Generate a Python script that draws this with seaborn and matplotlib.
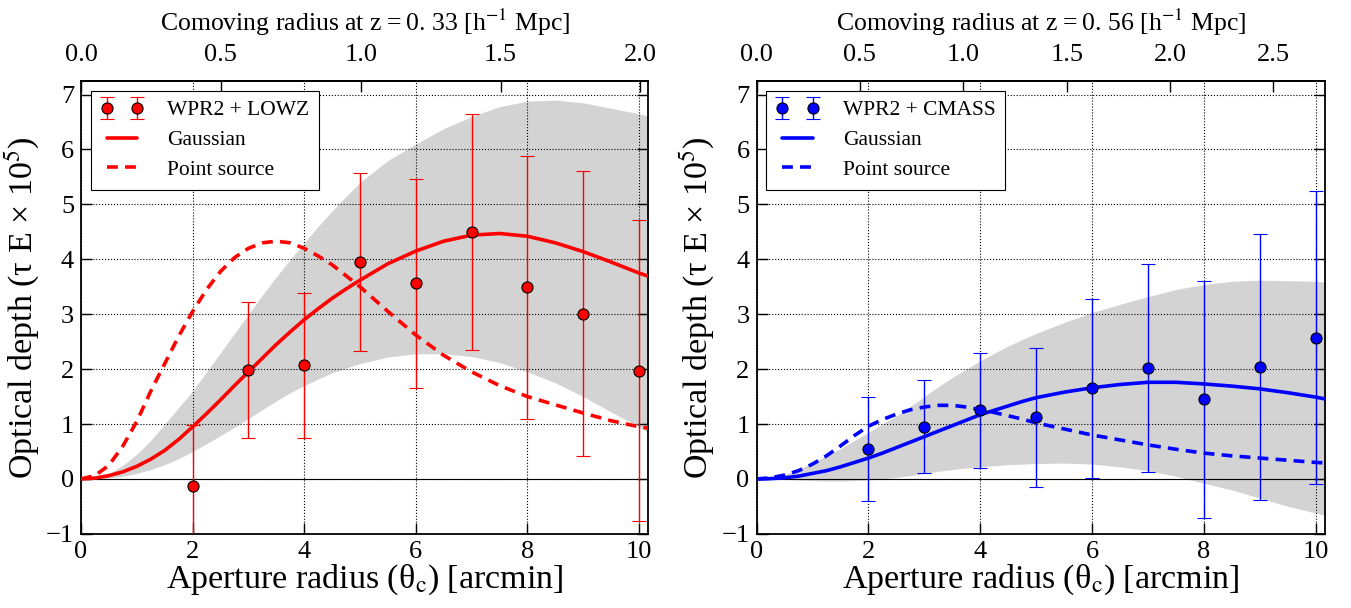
import numpy as np
import pandas as pd
import matplotlib
matplotlib.use("Agg")
import matplotlib.pyplot as plt
from matplotlib.ticker import FormatStrFormatter
from matplotlib.lines import Line2D
import seaborn as sns

# ---------------- data ----------------
theta_pts = [2, 3, 4, 5, 6, 7, 8, 9, 10]
lowz_tau = [-0.13, 1.98, 2.07, 3.95, 3.56, 4.50, 3.49, 3.01, 1.97]
lowz_err = [1.12, 1.24, 1.32, 1.62, 1.91, 2.15, 2.39, 2.59, 2.74]
cmass_tau = [0.55, 0.95, 1.25, 1.12, 1.65, 2.02, 1.45, 2.04, 2.57]
cmass_err = [0.95, 0.85, 1.05, 1.27, 1.63, 1.89, 2.16, 2.42, 2.67]

theta_model = [0, 0.25, 0.5, 0.75, 1, 1.25, 1.5, 1.75, 2, 2.25, 2.5, 2.75, 3, 3.25,
               3.5, 3.75, 4, 4.25, 4.5, 4.75, 5, 5.5, 6, 6.5, 7, 7.5, 8, 8.5, 9,
               9.5, 10, 10.2]
lowz_gauss = [0, 0.015, 0.06, 0.13, 0.23, 0.36, 0.52, 0.72, 0.95, 1.19, 1.44, 1.7,
              1.95, 2.2, 2.45, 2.68, 2.9, 3.1, 3.29, 3.46, 3.62, 3.92, 4.15, 4.33,
              4.44, 4.47, 4.42, 4.3, 4.14, 3.95, 3.75, 3.68]
lowz_point = [0, 0.06, 0.25, 0.6, 1.05, 1.6, 2.1, 2.6, 3.05, 3.45, 3.78, 4.03, 4.2,
              4.3, 4.33, 4.3, 4.2, 4.06, 3.9, 3.7, 3.5, 3.05, 2.62, 2.25, 1.95, 1.7,
              1.5, 1.35, 1.2, 1.06, 0.95, 0.92]
lowz_upper = [0, 0.02, 0.1, 0.25, 0.45, 0.7, 1.0, 1.3, 1.6, 1.95, 2.3, 2.65, 3.0,
              3.35, 3.68, 4.0, 4.3, 4.6, 4.88, 5.15, 5.4, 5.8, 6.1, 6.38, 6.6, 6.78,
              6.88, 6.9, 6.85, 6.75, 6.65, 6.6]
lowz_lower = [0, 0.005, 0.02, 0.05, 0.1, 0.17, 0.26, 0.37, 0.5, 0.64, 0.79, 0.94,
              1.1, 1.26, 1.42, 1.57, 1.7, 1.82, 1.93, 2.02, 2.1, 2.22, 2.28, 2.28,
              2.23, 2.12, 1.95, 1.75, 1.5, 1.22, 0.95, 0.82]

cmass_gauss = [0, 0.005, 0.02, 0.05, 0.1, 0.15, 0.22, 0.3, 0.38, 0.47, 0.57, 0.67,
               0.77, 0.87, 0.97, 1.07, 1.17, 1.25, 1.33, 1.41, 1.48, 1.58, 1.66,
               1.72, 1.76, 1.76, 1.73, 1.69, 1.64, 1.57, 1.49, 1.45]
cmass_point = [0, 0.02, 0.07, 0.15, 0.27, 0.42, 0.6, 0.79, 0.96, 1.08, 1.18, 1.26,
               1.31, 1.34, 1.34, 1.31, 1.26, 1.21, 1.15, 1.09, 1.02, 0.91, 0.8, 0.71,
               0.62, 0.54, 0.47, 0.42, 0.38, 0.34, 0.3, 0.29]
cmass_upper = [0, 0.02, 0.08, 0.17, 0.3, 0.42, 0.55, 0.7, 0.85, 1.0, 1.15, 1.32,
               1.5, 1.68, 1.85, 2.0, 2.15, 2.29, 2.42, 2.54, 2.65, 2.85, 3.03, 3.18,
               3.32, 3.45, 3.54, 3.6, 3.62, 3.61, 3.6, 3.58]
cmass_lower = [0, -0.005, -0.01, -0.02, -0.03, -0.04, -0.04, -0.03, -0.02, 0.0,
               0.03, 0.06, 0.1, 0.14, 0.17, 0.2, 0.22, 0.24, 0.26, 0.27, 0.28, 0.29,
               0.27, 0.22, 0.15, 0.05, -0.08, -0.2, -0.35, -0.5, -0.62, -0.68]

x_ticks = [0, 2, 4, 6, 8, 10]
y_ticks = [-1, 0, 1, 2, 3, 4, 5, 6, 7]
top_ticks_lowz = [0.0, 0.5, 1.0, 1.5, 2.0]
top_ticks_cmass = [0.0, 0.5, 1.0, 1.5, 2.0, 2.5]
mpc_per_arcmin_lowz = 0.1995
mpc_per_arcmin_cmass = 0.2705

# ---------------- style ----------------
sns.set_theme(style="ticks")
plt.rcParams.update({
    "font.family": ["Liberation Serif", "DejaVu Serif"],
    "mathtext.fontset": "stix",
    "xtick.direction": "in", "ytick.direction": "in",
    "xtick.major.size": 8, "ytick.major.size": 8,
    "xtick.major.width": 1.0, "ytick.major.width": 1.0,
    "axes.edgecolor": "black", "axes.linewidth": 1.3,
    "xtick.color": "black", "ytick.color": "black",
    "axes.labelcolor": "black", "text.color": "black",
    "xtick.labelsize": 19, "ytick.labelsize": 19, "axes.labelsize": 24.5,
})

fig = plt.figure(figsize=(13.51, 6.08), dpi=100)
ax1 = fig.add_axes([0.060, 0.122, 0.420, 0.745])
ax2 = fig.add_axes([0.560, 0.122, 0.421, 0.745])


def panel(ax, tau, err, gauss, point, upper, lower, color, label, z, k, top_ticks):
    ax.fill_between(theta_model, lower, upper, color="#d3d3d3", lw=0, zorder=1)
    ax.axhline(0, color="black", lw=0.8, zorder=2)
    df = pd.DataFrame({"theta": theta_model, "gauss": gauss, "point": point})
    sns.lineplot(data=df, x="theta", y="gauss", ax=ax, color=color, lw=2.6,
                 zorder=4, legend=False)
    sns.lineplot(data=df, x="theta", y="point", ax=ax, color=color, lw=2.6,
                 zorder=4, legend=False)
    ax.lines[-1].set_dashes([3, 2])
    eb = ax.errorbar(theta_pts, tau, yerr=err, fmt="o", color=color, ms=8,
                     mec="black", mew=0.8, elinewidth=1.0, capsize=5,
                     capthick=1.0, zorder=5)
    ax.set_xlim(0, 10.17)
    ax.set_ylim(-1, 7.25)
    ax.set_xticks(x_ticks)
    ax.set_yticks(y_ticks)
    ax.tick_params(top=False, right=True, pad=5)
    ax.grid(True, linestyle=":", color="black", linewidth=0.8)
    ax.set_axisbelow(False)
    ax.set_xlabel(r"Aperture radius (θ$_{\rm c}$) [arcmin]", labelpad=0)
    ax.set_ylabel(r"Optical depth (τ E × 10$^{5}$)", labelpad=3)

    sec = ax.secondary_xaxis("top", functions=(lambda t: t * k, lambda r: r / k))
    sec.set_xticks(top_ticks)
    sec.xaxis.set_major_formatter(FormatStrFormatter("%.1f"))
    sec.tick_params(direction="in", length=8, width=1.0, pad=11, labelsize=19)
    sec.set_xlabel("Comoving radius at z\u2009=\u20090. %s [h$^{-1}$ Mpc]" % z,
                   fontsize=18.5, labelpad=9)

    h_g = Line2D([], [], color=color, lw=2.6)
    h_p = Line2D([], [], color=color, lw=2.6, dashes=[3, 2])
    leg = ax.legend([eb, h_g, h_p], [label, "Gaussian", "Point source"],
                    loc="upper left", numpoints=2, fontsize=15.5, frameon=True,
                    fancybox=False, framealpha=1, edgecolor="black",
                    handlelength=2.0, borderpad=0.45, labelspacing=0.45,
                    handletextpad=1.1, borderaxespad=0.45)
    leg.get_frame().set_linewidth(0.8)
    leg.set_zorder(10)


panel(ax1, lowz_tau, lowz_err, lowz_gauss, lowz_point, lowz_upper, lowz_lower,
      "#ff0000", "WPR2 + LOWZ", "33", mpc_per_arcmin_lowz, top_ticks_lowz)
panel(ax2, cmass_tau, cmass_err, cmass_gauss, cmass_point, cmass_upper, cmass_lower,
      "#0000ff", "WPR2 + CMASS", "56", mpc_per_arcmin_cmass, top_ticks_cmass)

fig.savefig("out.png", dpi=100)
